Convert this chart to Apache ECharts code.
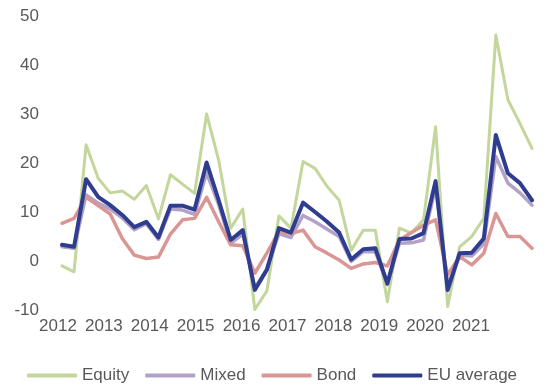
<!DOCTYPE html>
<html>
<head>
<meta charset="utf-8">
<script src="https://cdn.jsdelivr.net/npm/echarts@6/dist/echarts.min.js"></script>
<style>
  html, body { margin: 0; padding: 0; background: #ffffff; }
  #chart { width: 550px; height: 387px; }
</style>
</head>
<body>
<div id="chart"></div>
<script>
// Quarterly net flows (% ), 2012 Q1 – 2021 Q4
const quarters = [];
for (let y = 2012; y <= 2021; y++) {
  for (let q = 1; q <= 4; q++) quarters.push(y + ' Q' + q);
}
const yearLabels = [2012, 2013, 2014, 2015, 2016, 2017, 2018, 2019, 2020, 2021];

const equity = [-1.0, -2.2, 23.7, 16.9, 13.9, 14.3, 12.6, 15.4, 8.6, 17.6,
  15.7, 13.8, 30.0, 20.6, 6.7, 10.6, -9.9, -6.1, 9.2, 6.7,
  20.3, 18.9, 15.2, 12.4, 2.2, 6.3, 6.3, -8.3, 6.7, 5.7,
  8.4, 27.4, -9.3, 2.9, 5.0, 8.7, 46.1, 32.9, 28.1, 23.0];

const mixed = [2.9, 2.6, 13.5, 11.8, 10.6, 8.8, 6.4, 7.6, 4.4, 10.6,
  10.4, 9.5, 18.0, 11.5, 3.6, 5.5, -5.5, -1.6, 5.6, 4.8,
  9.3, 8.0, 6.5, 5.0, -0.1, 1.9, 1.9, -4.8, 3.6, 3.7,
  4.3, 15.2, -5.0, 1.2, 1.0, 3.5, 21.3, 15.9, 13.9, 11.4];

const bond = [7.7, 8.7, 13.0, 11.3, 9.6, 4.6, 1.2, 0.5, 0.8, 5.5,
  8.4, 8.7, 13.0, 8.0, 3.3, 3.1, -2.5, 1.6, 6.0, 5.6,
  6.3, 2.9, 1.6, 0.2, -1.5, -0.6, -0.3, -1.0, 4.3, 5.8,
  7.3, 8.4, -2.8, 0.9, -0.8, 1.6, 9.7, 5.0, 5.0, 2.6];

const euAverage = [3.3, 2.9, 16.7, 13.1, 11.4, 9.4, 6.9, 8.0, 4.8, 11.3,
  11.3, 10.5, 20.1, 12.4, 4.3, 6.3, -5.9, -1.8, 6.7, 5.8,
  11.9, 10.0, 8.0, 5.8, 0.3, 2.4, 2.6, -4.6, 4.5, 4.6,
  5.7, 16.3, -5.9, 1.6, 1.7, 4.6, 25.7, 17.9, 15.9, 12.4];

const textColor = '#595959';
const fontFamily = '"Liberation Sans", Arial, sans-serif';

const chart = echarts.init(document.getElementById('chart'), null, { renderer: 'canvas' });

function lineSeries(name, data, color, width) {
  return {
    name: name,
    type: 'line',
    data: data,
    xAxisIndex: 0,
    yAxisIndex: 0,
    symbol: 'none',
    lineStyle: { color: color, width: width, cap: 'round', join: 'round' },
    itemStyle: { color: color },
    animation: false
  };
}

chart.setOption({
  backgroundColor: '#ffffff',
  textStyle: { fontFamily: fontFamily },
  grid: [
    { left: 62, right: 18, top: 16, bottom: 77 },
    { left: 58, right: 79, top: 16, bottom: 77 }
  ],
  xAxis: [
    {
      type: 'category',
      gridIndex: 0,
      data: quarters,
      boundaryGap: false,
      axisLine: { show: false },
      axisTick: { show: false },
      axisLabel: { show: false },
      splitLine: { show: false }
    },
    {
      type: 'value',
      gridIndex: 1,
      min: yearLabels[0],
      max: yearLabels[yearLabels.length - 1],
      interval: 1,
      axisLine: { show: false },
      axisTick: { show: false },
      splitLine: { show: false },
      axisLabel: {
        color: textColor,
        fontSize: 17,
        fontFamily: fontFamily,
        margin: 8,
        formatter: v => String(v)
      }
    }
  ],
  yAxis: [
    {
      type: 'value',
      gridIndex: 0,
      min: -10,
      max: 50,
      interval: 10,
      axisLine: { show: false },
      axisTick: { show: false },
      splitLine: { show: false },
      axisLabel: { color: textColor, fontSize: 17, fontFamily: fontFamily, margin: 23 }
    },
    {
      type: 'value',
      gridIndex: 1,
      min: -10,
      max: 50,
      show: false
    }
  ],
  legend: {
    left: 27,
    top: 367,
    padding: 0,
    itemWidth: 50,
    itemHeight: 4,
    itemGap: 16,
    icon: 'roundRect',
    textStyle: { color: textColor, fontSize: 17, fontFamily: fontFamily },
    data: ['Equity', 'Mixed', 'Bond', 'EU average']
  },
  series: [
    lineSeries('Equity', equity, '#c3d69b', 3),
    lineSeries('Mixed', mixed, '#b3a2c7', 3.5),
    lineSeries('Bond', bond, '#d99694', 3.5),
    lineSeries('EU average', euAverage, '#2e3d8f', 4)
  ]
});
</script>
</body>
</html>
